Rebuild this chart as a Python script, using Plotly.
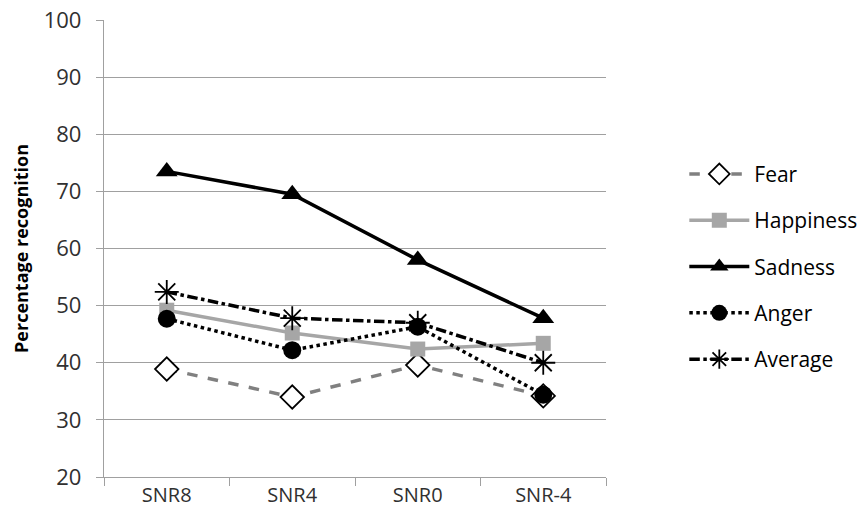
import plotly.graph_objects as go

categories = ["SNR8", "SNR4", "SNR0", "SNR-4"]
fear = [38.9, 34.0, 39.6, 34.2]
happiness = [49.2, 45.2, 42.4, 43.4]
sadness = [73.5, 69.5, 58.0, 47.8]
anger = [47.7, 42.2, 46.3, 34.4]
average = [52.4, 47.8, 47.0, 40.0]
y_ticks = [20, 30, 40, 50, 60, 70, 80, 90, 100]

fig = go.Figure()
fig.add_trace(go.Scatter(x=categories, y=fear, name="Fear", mode="lines+markers",
    line=dict(color="#808080", width=3.5, dash="dash"),
    marker=dict(symbol="diamond", size=18, color="white", line=dict(color="black", width=1.8)),
    legendgroup="a"))
fig.add_trace(go.Scatter(x=categories, y=happiness, name="Happiness", mode="lines+markers",
    line=dict(color="#A6A6A6", width=3.5),
    marker=dict(symbol="square", size=15, color="#A6A6A6"),
    legendgroup="b"))
fig.add_trace(go.Scatter(x=categories, y=sadness, name="Sadness", mode="lines+markers",
    line=dict(color="black", width=3.5),
    marker=dict(symbol="triangle-up", size=19, color="black"),
    legendgroup="c"))
fig.add_trace(go.Scatter(x=categories, y=anger, name="Anger", mode="lines+markers",
    line=dict(color="black", width=3.5, dash="dot"),
    marker=dict(symbol="circle", size=18, color="black"),
    legendgroup="d"))
fig.add_trace(go.Scatter(x=categories, y=average, name="Average", mode="lines+markers",
    line=dict(color="black", width=3.5, dash="dashdot"),
    marker=dict(symbol="asterisk-open", size=20, color="black", line=dict(color="black", width=1.8)),
    legendgroup="e"))

fig.update_layout(
    width=862, height=521,
    margin=dict(l=104, r=256, t=20, b=44, autoexpand=False),
    plot_bgcolor="white", paper_bgcolor="white",
    font=dict(family="Open Sans", color="#404040", size=19),
    showlegend=True,
    legend=dict(x=1.156, y=0.460, yanchor="middle", xanchor="left",
                font=dict(size=21, color="black"), tracegroupgap=16,
                itemwidth=60, bgcolor="rgba(0,0,0,0)"),
    xaxis=dict(type="category", range=[-0.5, 3.5], showgrid=False,
               showline=True, linecolor="#A0A0A0", linewidth=1.3,
               ticks="outside", tickson="boundaries", ticklen=8, tickcolor="#A0A0A0",
               tickfont=dict(size=20, color="#303030")),
    yaxis=dict(range=[20, 100], tickvals=y_ticks, showgrid=True, gridcolor="#A0A0A0", gridwidth=1.3,
               showline=True, linecolor="#A0A0A0", linewidth=1.3,
               ticks="outside", ticklen=7, tickcolor="#A0A0A0", ticklabelstandoff=10,
               tickfont=dict(size=22, color="#303030"), zeroline=False,
               title=dict(text="<b>Percentage recognition</b>", font=dict(size=18, color="black"), standoff=10)),
)

fig.write_html("out.html")
